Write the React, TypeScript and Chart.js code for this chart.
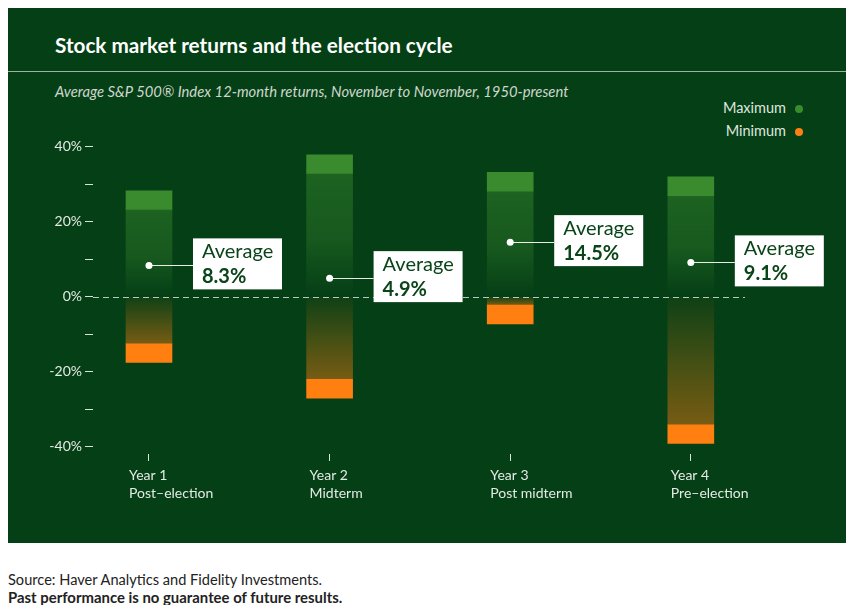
import React, { useEffect, useRef } from 'react';
import { Chart, registerables } from 'chart.js';

Chart.register(...registerables);

// ---- data ----
const categories: string[][] = [
  ['Year 1', 'Post–election'],
  ['Year 2', 'Midterm'],
  ['Year 3', 'Post midterm'],
  ['Year 4', 'Pre–election'],
];
const maxReturns = [28.2, 37.8, 33.1, 31.9];
const minReturns = [-17.6, -27.1, -7.3, -39.2];
const avgReturns = [8.3, 4.9, 14.5, 9.1];
const yTickValues = [-40, -30, -20, -10, 0, 10, 20, 30, 40];

// ---- style ----
const BAND = 5; // thickness (in % points) of the solid cap of each bar
const BG = '#053f16';
const GREEN = '#3a8a2e';
const ORANGE = '#ff7f11';
const FONT = 'Lato, "Noto Sans", sans-serif';
const TICK_TEXT = '#e4eae4';

const posGradient = (c: any) => {
  const { chart, dataIndex } = c;
  const { chartArea, scales } = chart;
  if (!chartArea) return 'rgba(58,138,46,0.45)';
  const y0 = scales.y.getPixelForValue(0);
  const yt = scales.y.getPixelForValue(maxReturns[dataIndex] - BAND);
  const g = chart.ctx.createLinearGradient(0, yt, 0, y0);
  g.addColorStop(0, 'rgba(58,138,46,0.48)');
  g.addColorStop(0.55, 'rgba(58,138,46,0.34)');
  g.addColorStop(1, 'rgba(58,138,46,0)');
  return g;
};

const negGradient = (c: any) => {
  const { chart, dataIndex } = c;
  const { chartArea, scales } = chart;
  if (!chartArea) return 'rgba(255,127,17,0.4)';
  const y0 = scales.y.getPixelForValue(0);
  const yb = scales.y.getPixelForValue(minReturns[dataIndex] + BAND);
  const g = chart.ctx.createLinearGradient(0, y0, 0, yb);
  g.addColorStop(0, 'rgba(255,127,17,0.04)');
  g.addColorStop(1, 'rgba(255,127,17,0.46)');
  return g;
};

const overlayPlugin = {
  id: 'overlay',
  beforeDatasetDraw(chart: any, args: any) {
    if (args.meta.type !== 'line') return;
    const { ctx, chartArea, scales } = chart;
    const y0 = Math.round(scales.y.getPixelForValue(0)) + 0.5;
    ctx.save();
    // zero line
    ctx.strokeStyle = 'rgba(255,255,255,0.72)';
    ctx.lineWidth = 1;
    ctx.setLineDash([6, 4]);
    ctx.beginPath();
    ctx.moveTo(chartArea.left, y0);
    ctx.lineTo(chartArea.right, y0);
    ctx.stroke();
    ctx.setLineDash([]);
    // average call-outs
    args.meta.data.forEach((pt: any, i: number) => {
      const x = pt.x;
      const y = pt.y;
      const bx = x + 44;
      const by = y - 27;
      const bw = 89;
      const bh = 51;
      ctx.strokeStyle = 'rgba(255,255,255,0.9)';
      ctx.lineWidth = 1;
      ctx.beginPath();
      ctx.moveTo(x, Math.round(y) + 0.5);
      ctx.lineTo(bx, Math.round(y) + 0.5);
      ctx.stroke();
      ctx.fillStyle = '#ffffff';
      ctx.fillRect(bx, by, bw, bh);
      ctx.fillStyle = '#0a4519';
      ctx.textAlign = 'left';
      ctx.textBaseline = 'alphabetic';
      ctx.font = `400 20px ${FONT}`;
      ctx.fillText('Average', bx + 9, y - 7);
      ctx.font = `700 20px ${FONT}`;
      ctx.fillText(`${avgReturns[i]}%`, bx + 9, y + 18);
    });
    ctx.restore();
  },
};

const barCommon = {
  barThickness: 46,
  grouped: false,
  borderWidth: 0,
  borderSkipped: false,
  order: 1,
};

export default function App() {
  const ref = useRef<HTMLCanvasElement | null>(null);

  useEffect(() => {
    if (!ref.current) return;
    const chart = new Chart(ref.current, {
      type: 'bar',
      data: {
        datasets: [
          {
            type: 'line',
            label: 'Average',
            data: avgReturns.map((v, i) => ({ x: i, y: v })),
            showLine: false,
            pointRadius: 3.5,
            pointHoverRadius: 3.5,
            pointBackgroundColor: '#ffffff',
            pointBorderWidth: 0,
            order: 0,
          } as any,
          {
            ...barCommon,
            label: 'Gain',
            data: maxReturns.map((v, i) => ({ x: i, y: [0, v - BAND] })),
            backgroundColor: posGradient,
          } as any,
          {
            ...barCommon,
            label: 'Maximum',
            data: maxReturns.map((v, i) => ({ x: i, y: [v - BAND, v] })),
            backgroundColor: GREEN,
          } as any,
          {
            ...barCommon,
            label: 'Loss',
            data: minReturns.map((v, i) => ({ x: i, y: [v + BAND, 0] })),
            backgroundColor: negGradient,
          } as any,
          {
            ...barCommon,
            label: 'Minimum',
            data: minReturns.map((v, i) => ({ x: i, y: [v, v + BAND] })),
            backgroundColor: ORANGE,
          } as any,
        ],
      },
      options: {
        animation: false,
        responsive: true,
        maintainAspectRatio: false,
        events: [],
        layout: { padding: { top: 109.5, right: 101, left: 0, bottom: 0 } },
        plugins: {
          legend: { display: false },
          tooltip: { enabled: false },
        },
        scales: {
          x: {
            type: 'linear',
            min: -0.31,
            max: 3.3,
            offset: false,
            afterBuildTicks: (s: any) => {
              s.ticks = categories.map((_, i) => ({ value: i }));
            },
            afterFit: (s: any) => {
              s.height = 89;
            },
            grid: {
              display: true,
              offset: false,
              drawOnChartArea: false,
              drawTicks: true,
              tickLength: 7,
              tickColor: 'rgba(255,255,255,0.85)',
              tickWidth: 1,
            },
            border: { display: false },
            ticks: {
              autoSkip: false,
              maxRotation: 0,
              align: 'start',
              labelOffset: -20,
              padding: 6,
              color: TICK_TEXT,
              font: { family: FONT, size: 14, lineHeight: 1.25 },
              callback: (_v: any, i: number) => categories[i],
            },
          } as any,
          y: {
            type: 'linear',
            min: -42,
            max: 48,
            afterBuildTicks: (s: any) => {
              s.ticks = yTickValues.map((v) => ({ value: v }));
            },
            afterFit: (s: any) => {
              s.width = 85;
            },
            grid: {
              display: true,
              drawOnChartArea: false,
              drawTicks: true,
              tickLength: 8,
              tickColor: 'rgba(255,255,255,0.85)',
              tickWidth: 1,
            },
            border: { display: false },
            ticks: {
              padding: 3,
              color: TICK_TEXT,
              font: { family: FONT, size: 14 },
              callback: (v: any) => (Number(v) % 20 === 0 ? `${v}%` : ''),
            },
          } as any,
        },
      },
      plugins: [overlayPlugin],
    });
    return () => chart.destroy();
  }, []);

  const legendItems = [
    { label: 'Maximum', color: GREEN, top: 92.6, dotTop: 98 },
    { label: 'Minimum', color: ORANGE, top: 115.9, dotTop: 120.7 },
  ];

  return (
    <div style={{ fontFamily: FONT }}>
      <div
        style={{
          position: 'relative',
          width: 838,
          height: 536,
          background: BG,
          marginTop: -1,
          overflow: 'hidden',
        }}
      >
        <div
          style={{
            position: 'absolute',
            left: 47,
            top: 28.3,
            fontSize: 20.7,
            lineHeight: '20.7px',
            fontWeight: 700,
            color: '#ffffff',
            whiteSpace: 'nowrap',
          }}
        >
          Stock market returns and the election cycle
        </div>
        <div
          style={{
            position: 'absolute',
            left: 0,
            right: 0,
            top: 64,
            height: 1,
            background: 'rgba(255,255,255,0.6)',
          }}
        />
        <div
          style={{
            position: 'absolute',
            left: 47,
            top: 76.6,
            fontSize: 14.8,
            lineHeight: '14.8px',
            fontStyle: 'italic',
            color: '#cdd7cd',
            whiteSpace: 'nowrap',
          }}
        >
          Average S&amp;P 500® Index 12-month returns, November to November, 1950-present
        </div>
        {legendItems.map((it) => (
          <React.Fragment key={it.label}>
            <div
              style={{
                position: 'absolute',
                right: 60,
                top: it.top,
                fontSize: 14.5,
                lineHeight: '15px',
                color: '#dfe6df',
                whiteSpace: 'nowrap',
              }}
            >
              {it.label}
            </div>
            <div
              style={{
                position: 'absolute',
                left: 786.7,
                top: it.dotTop,
                width: 8,
                height: 8,
                borderRadius: '50%',
                background: it.color,
              }}
            />
          </React.Fragment>
        ))}
        <div style={{ position: 'absolute', left: 0, top: 0, width: 838, height: 536 }}>
          <canvas ref={ref} />
        </div>
      </div>
      <div style={{ marginTop: 28.9, lineHeight: '16.7px', color: '#222222' }}>
        <div style={{ fontSize: 14.6 }}>Source: Haver Analytics and Fidelity Investments.</div>
        <div style={{ fontSize: 14.9, fontWeight: 700 }}>
          Past performance is no guarantee of future results.
        </div>
      </div>
    </div>
  );
}
